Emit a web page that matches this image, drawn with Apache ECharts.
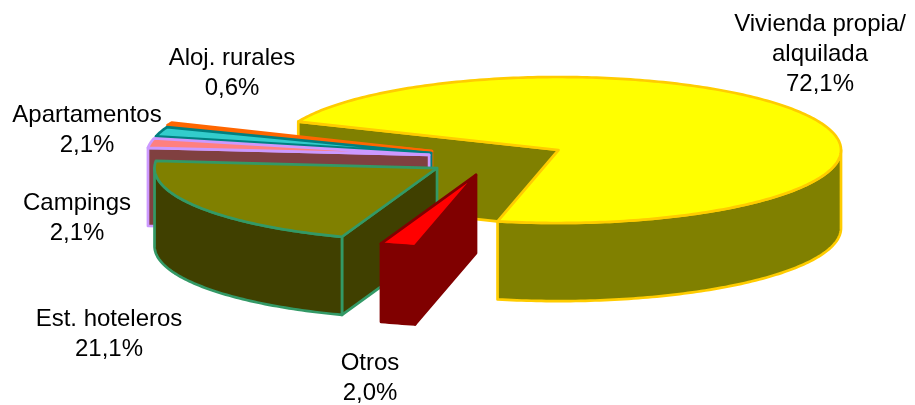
<!DOCTYPE html>
<html>
<head>
<meta charset="utf-8">
<style>html,body{margin:0;padding:0;background:#fff}#c{width:915px;height:405px}</style>
<script src="https://cdn.jsdelivr.net/npm/echarts@6/dist/echarts.min.js"></script>
</head>
<body>
<div id="c"></div>
<script>
// Data, clockwise from the start of the big slice
const categories = ["Vivienda propia/\nalquilada", "Otros", "Est. hoteleros", "Campings", "Apartamentos", "Aloj. rurales"];
const shares = [72.1, 2.0, 21.1, 2.1, 2.1, 0.6];

// Styling and layout
const topColors = ["#ffff00", "#ff0000", "#808000", "#ff8080", "#33cccc", "#ff6600"];
const wallColors = ["#808000", "#800000", "#404000", "#804040", "#1a6666", "#803300"];
const edgeColors = ["#ffcc00", "#800000", "#339966", "#cc99ff", "#008080", "#ff6600"];
const drawRank = [0, 5, 4, 3, 2, 1];
const explodeX = [0, -0.292, -0.430, -0.458, -0.451, -0.448];
const explodeY = [0, 0.342, 0.247, 0.068, 0.041, 0.014];
const labelX = [820, 370, 109, 77, 87, 232];
const labelY = [54, 378, 334, 218, 130, 73];
const startAngle = 292.9;
const depth = 1.07;
const FONT = '24px "Liberation Sans", Arial, sans-serif';

const total = shares.reduce((a, b) => a + b, 0);
const rad = d => d * Math.PI / 180;

function renderItem(params, api) {
  const i = api.value(0);
  const before = shares.slice(0, i).reduce((a, b) => a + b, 0);
  const a0 = startAngle + before / total * 360;
  const a1 = a0 + api.value(1) / total * 360;
  const ox = explodeX[i], oy = explodeY[i];
  const rim = (a, d) => api.coord([ox + Math.sin(rad(a)), oy - Math.cos(rad(a)) + d]);
  const apex = d => api.coord([ox, oy + d]);
  const arc = (from, to, d) => {
    const pts = [], n = Math.max(2, Math.ceil(Math.abs(to - from)));
    for (let k = 0; k <= n; k++) pts.push(rim(from + (to - from) * k / n, d));
    return pts;
  };
  const base = drawRank[i] * 10;
  const lw = 2.7;
  const poly = (points, fill, z) => ({
    type: 'polygon', z2: base + z,
    shape: { points },
    style: { fill, stroke: edgeColors[i], lineWidth: lw, lineJoin: 'round' }
  });
  const children = [];
  // visible radial wall at the start of the slice
  if (Math.sin(rad(a0)) < 0) {
    children.push(poly([apex(0), rim(a0, 0), rim(a0, depth), apex(depth)], wallColors[i], 1));
  }
  // visible outer wall: the part of the rim facing the viewer
  for (const turn of [0, 360]) {
    const f = Math.max(a0, 90 + turn), t = Math.min(a1, 270 + turn);
    if (t > f) {
      children.push(poly(arc(f, t, 0).concat(arc(t, f, depth)), wallColors[i], 2));
    }
  }
  // visible radial wall at the end of the slice
  if (Math.sin(rad(a1)) > 0) {
    children.push(poly([apex(0), rim(a1, 0), rim(a1, depth), apex(depth)], wallColors[i], 3));
  }
  // top face
  children.push(poly([apex(0)].concat(arc(a0, a1, 0)), topColors[i], 4));
  // label
  children.push({
    type: 'text', z2: 200,
    style: {
      text: categories[i] + '\n' + shares[i].toFixed(1).replace('.', ',') + '%',
      x: labelX[i], y: labelY[i],
      textAlign: 'center', textVerticalAlign: 'middle',
      font: FONT, lineHeight: 30, fill: '#000'
    }
  });
  return { type: 'group', children };
}

const chart = echarts.init(document.getElementById('c'), null, { renderer: 'canvas' });
chart.setOption({
  animation: false,
  backgroundColor: '#ffffff',
  grid: { left: 276, width: 565, top: 77, height: 146 },
  xAxis: { type: 'value', min: -1, max: 1, show: false },
  yAxis: { type: 'value', min: -1, max: 1, inverse: true, show: false },
  tooltip: { show: false },
  series: [{
    type: 'custom',
    coordinateSystem: 'cartesian2d',
    clip: false,
    silent: true,
    renderItem,
    encode: { x: 0, y: 1 },
    data: shares.map((v, i) => [i, v])
  }]
});
</script>
</body>
</html>
